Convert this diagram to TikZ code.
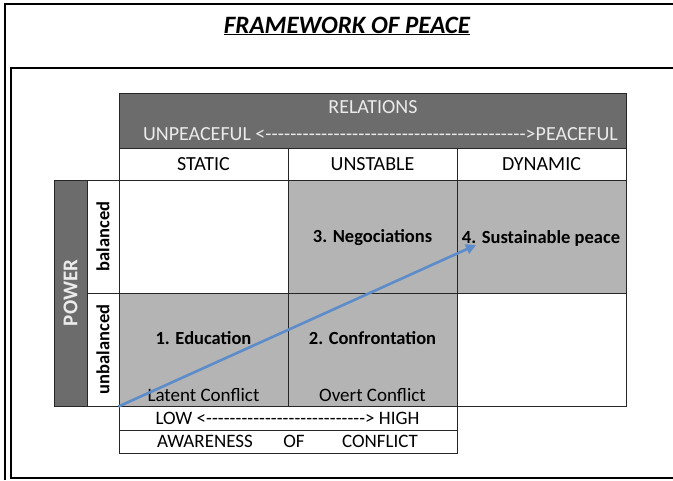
\documentclass[tikz,border=0pt]{standalone}
\usepackage{fontspec}
\setmainfont{Carlito}
\usetikzlibrary{arrows.meta}

\definecolor{headgray}{RGB}{108,108,108}
\definecolor{cellgray}{RGB}{180,180,180}
\definecolor{pathblue}{RGB}{92,140,202}

% a run of hyphens filling the rest of a box
\newcommand{\dashrun}{\xleaders\hbox{-}\hfill}

\begin{document}
\begin{tikzpicture}
        [x=1pt, y=-1pt,
        box/.style={draw=black!85, line width=1pt, inner sep=0pt},
        cell/.style={box, minimum width=169pt, minimum height=113pt},
        shaded/.style={cell, fill=cellgray},
        blank/.style={cell, fill=white},
        headtext/.style={font=\fontsize{20}{22}\selectfont},
        colhead/.style={box, headtext, minimum width=169pt, minimum height=32pt},
        rowhead/.style={box, rotate=90, minimum width=113pt, minimum height=32pt, font=\fontsize{18.5}{20}\selectfont\bfseries},
        celltext/.style={font=\fontsize{18.5}{20}\selectfont\bfseries},
        subtext/.style={font=\fontsize{19}{21}\selectfont},
        frame/.style={black, line width=2pt},
        path/.style={pathblue, line width=2.6pt, -{Triangle[length=10pt,width=10pt]}}]

        \useasboundingbox (0,0) rectangle (673,480);

        % page frames
        \draw[frame] (5,480) -- (5,4) -- (673,4);
        \draw[frame, line width=2.6pt] (673,68) -- (11,68) -- (11,478) -- (673,478);

        % title
        \node[font=\fontsize{25}{28}\selectfont\bfseries\itshape] (title) at (347,26) {\underline{FRAMEWORK OF PEACE}};

        % relations header
        \node[box, fill=headgray, minimum width=507pt, minimum height=55pt] (rel) at (372.5,120.5) {};
        \node[headtext, text=white!92!black] (reltitle) at (373,107) {RELATIONS};
        \node[headtext, text=white!92!black, inner sep=0pt] (relscale) at (380.5,134)
            {\makebox[475pt]{UNPEACEFUL <\dashrun>PEACEFUL}};

        \node[colhead] (static) at (203.5,164) {STATIC};
        \node[colhead] (unstable) at (372.5,164) {UNSTABLE};
        \node[colhead] (dynamic) at (541.5,164) {DYNAMIC};

        % power column
        \node[box, fill=headgray, rotate=90, minimum width=226pt, minimum height=33pt,
              text=white!92!black, font=\fontsize{21}{23}\selectfont\bfseries] (power) at (70.5,293) {POWER};
        \node[rowhead] (bal) at (103,236.5) {balanced};
        \node[rowhead] (unbal) at (103,349.5) {unbalanced};

        % the six cells
        \node[blank] (c11) at (203.5,236.5) {};
        \node[shaded] (c12) at (372.5,236.5) {};
        \node[shaded] (c13) at (541.5,236.5) {};
        \node[shaded] (c21) at (203.5,349.5) {};
        \node[shaded] (c22) at (372.5,349.5) {};
        \node[blank] (c23) at (541.5,349.5) {};

        \node[celltext] (neg) at (372.5,238) {3. Negociations};
        \node[celltext] (peace) at (541,238) {4. Sustainable peace};
        \node[celltext] (edu) at (203.5,338) {1. Education};
        \node[celltext] (conf) at (372.5,338) {2. Confrontation};
        \node[subtext] (latent) at (203.5,395) {Latent Conflict};
        \node[subtext] (overt) at (372.5,395) {Overt Conflict};

        % awareness scale
        \node[box, minimum width=338pt, minimum height=24pt] (low) at (288,418) {};
        \node[box, minimum width=338pt, minimum height=23pt] (aware) at (288,441.5) {};
        \node[subtext, inner sep=0pt] (lowtext) at (287.5,418) {\makebox[264pt]{LOW <\dashrun> HIGH}};
        \node[subtext] (w1) at (205,441.5) {AWARENESS};
        \node[subtext] (w2) at (294,441.5) {OF};
        \node[subtext] (w3) at (380,441.5) {CONFLICT};

        % path from conflict to peace
        \coordinate (goal) at (476,245);
        \draw[path] (c21.south west) -- (goal);

        \end{tikzpicture}
\end{document}
